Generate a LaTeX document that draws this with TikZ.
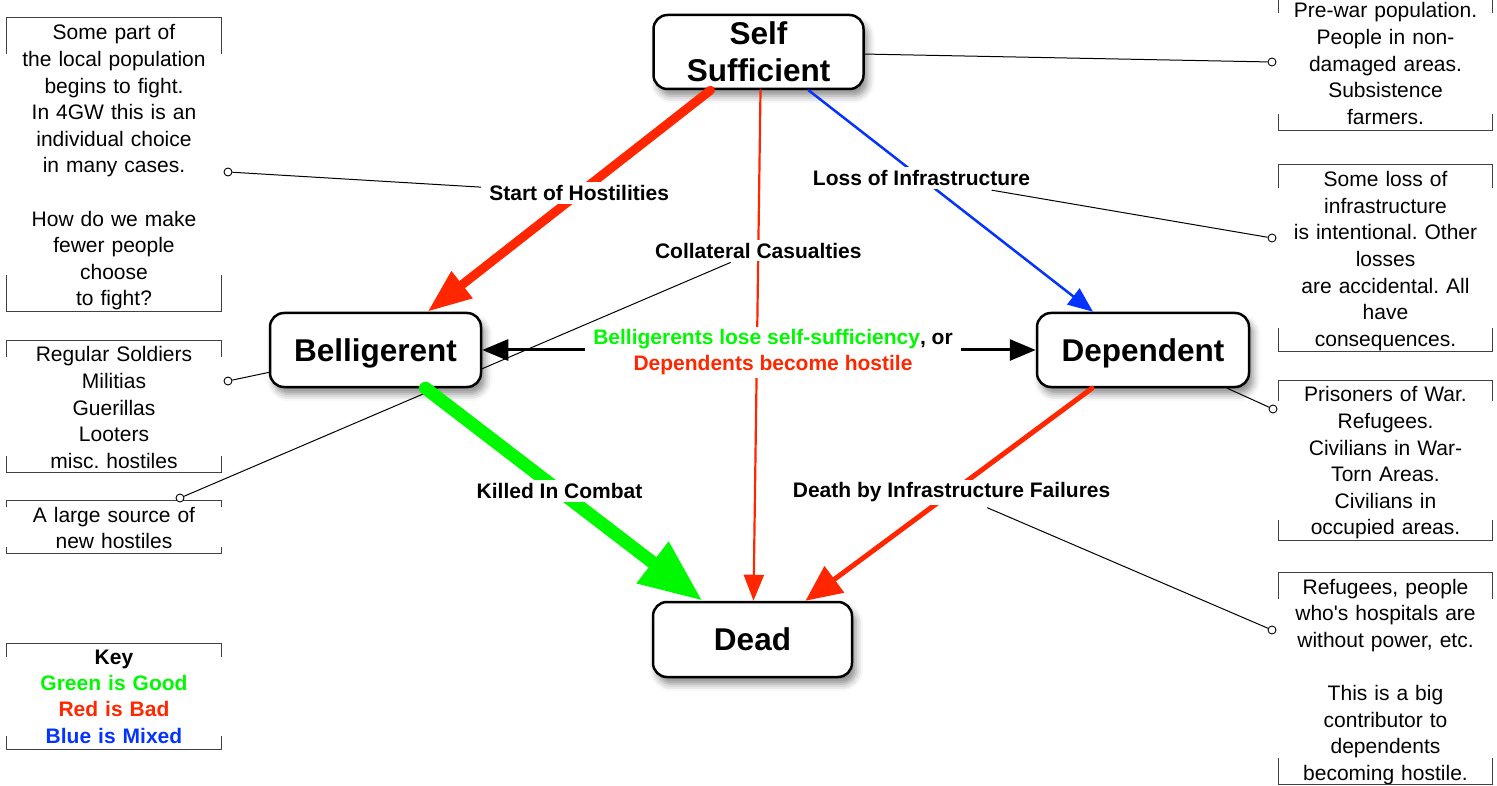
\documentclass[tikz,border=0pt]{standalone}
\usepackage{fontspec}
\setmainfont{Liberation Sans}
\frenchspacing
\usetikzlibrary{arrows.meta,shadows.blur,calc}
\pgfdeclarelayer{bg}
\pgfsetlayers{bg,main}
\definecolor{cred}{RGB}{255,38,0}
\definecolor{cgreen}{RGB}{0,249,0}
\definecolor{cblue}{RGB}{4,51,255}
% #1: upward offset of the bracket relative to the node box, #2: node name
\newcommand\drawbrk[2][0]{%
  \draw[brkline] let \p1=([yshift=#1pt]#2.north west), \p2=([yshift=#1pt]#2.south east), \n1={0.125*(\y1-\y2)} in
    (\x1,\y1-\n1) -- (\x1,\y1) -- (\x2,\y1) -- (\x2,\y1-\n1)
    (\x1,\y2+\n1) -- (\x1,\y2) -- (\x2,\y2) -- (\x2,\y2+\n1);}
\begin{document}
\begin{tikzpicture}[x=1pt,y=-1pt,
  state/.style={draw, line width=2.5pt, rounded corners=14pt, fill=white,
    minimum width=210pt, minimum height=74pt, inner sep=2pt,
    font=\fontsize{31.5}{37}\selectfont\bfseries, align=center,
    blur shadow={shadow xshift=4pt, shadow yshift=-7pt, shadow blur radius=7pt, shadow opacity=45}},
  lbl/.style={fill=white, font=\fontsize{21}{26}\selectfont\bfseries, inner xsep=4pt, inner ysep=3pt},
  note/.style={font=\fontsize{21}{26.6}\selectfont, align=center, inner sep=0pt, text width=214pt},
  brkline/.style={line width=1pt, draw=black!75},
  dot/.style={circle, draw, fill=white, line width=0.9pt, inner sep=0pt, minimum size=8pt},
  ann/.style={line width=1pt},
  edge/.style={line cap=round}
]
\useasboundingbox (0,0) rectangle (1497,786);

% state nodes
\node[state] (S) at (758.5,52) {Self\\Sufficient};
\node[state, minimum width=211pt, text depth=0pt] (B) at (375.5,350) {Belligerent};
\node[state, minimum width=212pt, text depth=0pt] (P) at (1143,350) {Dependent};
\node[state, minimum width=199pt, minimum height=75pt] (D) at (752.5,639.5) {Dead};

% edges
\draw[edge, cred, line width=9pt, -{Triangle[length=44pt,width=32pt]}]
  ([xshift=-48pt]S.south) -- node[lbl, text=black, pos=0.464] (lSH) {Start of Hostilities} ([xshift=52pt]B.north);
\draw[edge, cred, line width=2.2pt, -{Triangle[length=26pt,width=20pt]}]
  ([xshift=2pt]S.south) -- node[lbl, text=black, pos=0.314] (lCC) {Collateral Casualties} ([xshift=1pt]D.north);
\draw[edge, cblue, line width=2.5pt, -{Triangle[length=25pt,width=20pt]}]
  ([xshift=50pt]S.south) -- node[lbl, text=black, pos=0.397] (lLI) {Loss of Infrastructure} ([xshift=-50pt]P.north);
\draw[edge, cgreen, line width=13pt, -{Triangle[length=63pt,width=49pt]}]
  ([xshift=50pt]B.south) -- node[lbl, text=black, pos=0.484] (lKC) {Killed In Combat} ([xshift=-50pt]D.north);
\draw[edge, cred, line width=5pt, -{Triangle[length=36pt,width=32pt]}]
  ([xshift=-51pt]P.south) -- node[lbl, text=black, pos=0.49] (lDI) {Death by Infrastructure Failures} ([xshift=53pt]D.north);

% centre label with arrows
\node[lbl, align=center, inner xsep=8pt, inner ysep=3pt] (C) at (773,352.5)
  {\textcolor{cgreen}{Belligerents lose self-sufficiency}, or\\\textcolor{cred}{Dependents become hostile}};
\draw[line width=3pt, -{Triangle[length=26pt,width=21pt]}] (C.west |- B.east) -- (B.east);
\draw[line width=3pt, -{Triangle[length=26pt,width=21pt]}] (C.east |- P.west) -- (P.west);

% notes
\node[note, minimum height=293pt] (A1) at (114,167.5)
  {Some part of\\the local population\\begins to fight.\\In 4GW this is an\\individual choice\\in many cases.\\[26.6pt]How do we make\\fewer people\\choose\\to fight?};
\node[note, minimum height=131pt] (A2) at (114,407.5)
  {Regular Soldiers\\Militias\\Guerillas\\Looters\\misc. hostiles};
\node[note, minimum height=52pt] (A3) at (114,528)
  {A large source of\\new hostiles};
\node[note, minimum height=105pt, font=\fontsize{21}{26.4}\selectfont\bfseries] (K) at (114,696.5)
  {Key\\\textcolor{cgreen}{Green is Good}\\\textcolor{cred}{Red is Bad}\\\textcolor{cblue}{Blue is Mixed}};
\node[note, minimum height=133pt] (R1) at (1385.5,63.5)
  {Pre-war population.\\People in non-\\damaged areas.\\Subsistence\\farmers.};
\node[note, minimum height=186pt] (R2) at (1385.5,261)
  {Some loss of\\infrastructure\\is intentional. Other\\losses\\are accidental. All\\have\\consequences.};
\node[note, minimum height=159pt] (R3) at (1385.5,463)
  {Prisoners of War.\\Refugees.\\Civilians in War-\\Torn Areas.\\Civilians in\\occupied areas.};
\node[note, minimum height=211pt] (R4) at (1385.5,682)
  {Refugees, people\\who\textquotesingle s hospitals are\\without power, etc.\\[26.6pt]This is a big\\contributor to\\dependents\\becoming hostile.};
\drawbrk[3]{A1}\drawbrk[1]{A2}\drawbrk[1]{A3}\drawbrk{K}
\drawbrk{R1}\drawbrk[3]{R2}\drawbrk[2.5]{R3}\drawbrk[3.5]{R4}

% annotation dots
\node[dot] (c1) at (1272,62) {};
\node[dot] (c2) at (228,172) {};
\node[dot] (c3) at (1272,238) {};
\node[dot] (c4) at (228,381) {};
\node[dot] (c5) at (180,498) {};
\node[dot] (c6) at (1273,409) {};
\node[dot] (c7) at (1272,630) {};

\begin{pgfonlayer}{bg}
\draw[ann] (S) -- (c1);
\draw[ann] (lSH) -- (c2);
\draw[ann] (lLI) -- (c3);
\draw[ann] (B) -- (c4);
\draw[ann] (lCC) -- (c5);
\draw[ann] (P) -- (c6);
\draw[ann] (lDI) -- (c7);
\end{pgfonlayer}
\end{tikzpicture}
\end{document}
